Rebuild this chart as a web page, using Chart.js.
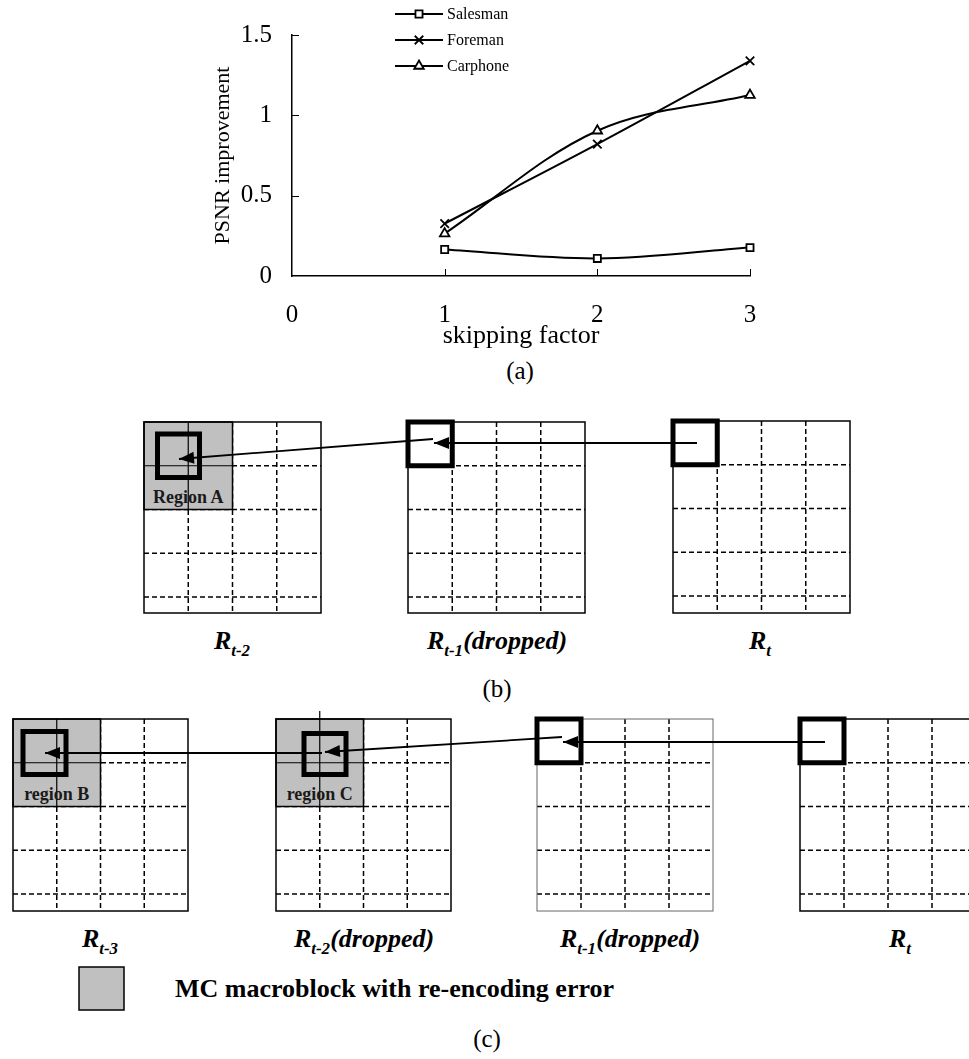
<!DOCTYPE html>
<html>
<head>
<meta charset="utf-8">
<title>PSNR improvement vs skipping factor</title>
<script src="https://cdn.jsdelivr.net/npm/chart.js@4.4.1/dist/chart.umd.min.js"></script>
<style>
  html, body { margin: 0; padding: 0; background: #fff; }
  #page { position: relative; width: 969px; height: 1059px; overflow: hidden; }
  #chartWrap { position: absolute; left: 0; top: 0; width: 969px; height: 352px; }
  #diagram { position: absolute; left: 0; top: 0; }
</style>
</head>
<body>
<div id="page">
  <svg id="diagram" width="969" height="1059" xmlns="http://www.w3.org/2000/svg"></svg>
  <div id="chartWrap"><canvas id="psnrChart" width="969" height="352"></canvas></div>
</div>
<script>
// chart data
const skipFactors = [1, 2, 3];
const salesman = [0.165, 0.109, 0.177];
const foreman = [0.326, 0.821, 1.339];
const carphone = [0.264, 0.904, 1.126];
const seriesNames = ['Salesman', 'Foreman', 'Carphone'];
const xTicks = [0, 1, 2, 3];
const yTicks = [0, 0.5, 1, 1.5];

const SERIF = "'Liberation Serif', 'Times New Roman', serif";

function toPoints(values) {
    return skipFactors.map((x, i) => ({ x: x, y: values[i] }));
}

function seriesStyle(style, radius) {
    return {
        borderColor: '#000',
        backgroundColor: '#fff',
        borderWidth: 2,
        tension: 0.35,
        clip: false,
        pointStyle: style,
        pointRadius: radius,
        pointBorderWidth: 1.8,
        pointBorderColor: '#000',
        pointBackgroundColor: '#fff'
    };
}

// legend drawn as line + marker like the original figure
const lineLegend = {
    id: 'lineLegend',
    afterDraw(chart) {
        const ctx = chart.ctx;
        ctx.save();
        chart.data.datasets.forEach((ds, i) => {
            const y = 14 + i * 26;
            ctx.strokeStyle = '#000';
            ctx.lineWidth = 2;
            ctx.beginPath();
            ctx.moveTo(395, y);
            ctx.lineTo(443, y);
            ctx.stroke();
            ctx.fillStyle = '#fff';
            ctx.lineWidth = ds.pointBorderWidth;
            Chart.helpers.drawPoint(ctx, {
                pointStyle: ds.pointStyle,
                radius: ds.pointRadius,
                rotation: 0,
                borderWidth: ds.pointBorderWidth
            }, 419, y);
            ctx.fillStyle = '#000';
            ctx.font = "16px " + SERIF;
            ctx.textAlign = 'left';
            ctx.textBaseline = 'middle';
            ctx.fillText(ds.label, 447, y + 1);
        });
        ctx.restore();
    }
};

// small tick marks pointing into the plot
const innerTicks = {
    id: 'innerTicks',
    afterDraw(chart) {
        const { ctx, chartArea, scales } = chart;
        ctx.save();
        ctx.strokeStyle = '#000';
        ctx.lineWidth = 1;
        ctx.beginPath();
        xTicks.slice(1).forEach(v => {
            const px = Math.round(scales.x.getPixelForValue(v)) + 0.5;
            ctx.moveTo(px, chartArea.bottom);
            ctx.lineTo(px, chartArea.bottom - 7);
        });
        yTicks.slice(1).forEach(v => {
            const py = Math.round(scales.y.getPixelForValue(v)) + 0.5;
            ctx.moveTo(chartArea.left, py);
            ctx.lineTo(chartArea.left + 7, py);
        });
        ctx.stroke();
        ctx.restore();
    }
};

const ctx = document.getElementById('psnrChart').getContext('2d');
new Chart(ctx, {
    type: 'line',
    data: {
        datasets: [
            Object.assign({ label: seriesNames[0], data: toPoints(salesman) }, seriesStyle('rect', 5)),
            Object.assign({ label: seriesNames[1], data: toPoints(foreman) }, seriesStyle('crossRot', 6)),
            Object.assign({ label: seriesNames[2], data: toPoints(carphone) }, seriesStyle('triangle', 5.5))
        ]
    },
    options: {
        responsive: false,
        animation: false,
        events: [],
        layout: { padding: { left: 200, right: 219, top: 19, bottom: 0 } },
        plugins: {
            legend: { display: false },
            tooltip: { enabled: false }
        },
        scales: {
            x: {
                type: 'linear',
                min: 0,
                max: 3,
                afterBuildTicks: s => { s.ticks = xTicks.map(v => ({ value: v })); },
                afterFit: s => { s.height = 76; },
                grid: { display: false, drawTicks: false },
                border: { display: true, color: '#000', width: 1.5 },
                ticks: {
                    color: '#000', padding: 24, font: { family: SERIF, size: 25 },
                    callback: v => String(v)
                },
                title: {
                    display: true,
                    text: 'skipping factor',
                    color: '#000',
                    padding: 0,
                    font: { family: SERIF, size: 26 }
                }
            },
            y: {
                min: 0,
                max: 1.5,
                afterBuildTicks: s => { s.ticks = yTicks.map(v => ({ value: v })); },
                afterFit: s => { s.width = 92; },
                grid: { display: false, drawTicks: false },
                border: { display: true, color: '#000', width: 1.5 },
                ticks: {
                    color: '#000', padding: 20, font: { family: SERIF, size: 25 },
                    callback: v => String(v)
                },
                title: {
                    display: true,
                    text: 'PSNR improvement',
                    color: '#000',
                    padding: { top: 10, bottom: 0 },
                    font: { family: SERIF, size: 22 }
                }
            }
        }
    },
    plugins: [innerTicks, lineLegend]
});

// ---- diagrams (b) and (c) ----
const svg = document.getElementById('diagram');
const NS = 'http://www.w3.org/2000/svg';

function el(tag, attrs, parent) {
    const node = document.createElementNS(NS, tag);
    for (const k in attrs) node.setAttribute(k, attrs[k]);
    (parent || svg).appendChild(node);
    return node;
}

function seg(x1, y1, x2, y2, extra) {
    return el('line', Object.assign({ x1, y1, x2, y2, stroke: '#000', 'stroke-width': 1.5 }, extra || {}));
}

function drawFrame(f) {
    const rowH = 43.75;
    const colW = f.w / 4;
    for (let i = 1; i < 4; i++) {
        seg(f.x + i * colW, f.y, f.x + i * colW, f.y + f.h, { 'stroke-dasharray': '5 3' });
    }
    for (let j = 1; j <= 4; j++) {
        seg(f.x, f.y + j * rowH, f.x + f.w, f.y + j * rowH, { 'stroke-dasharray': '5 3' });
    }
    if (f.region) {
        el('rect', { x: f.x, y: f.y, width: 2 * colW, height: 2 * rowH, fill: '#c0c0c0', stroke: '#000', 'stroke-width': 1.5 });
        seg(f.x + colW, f.y - (f.extend || 0), f.x + colW, f.y + 2 * rowH, { 'stroke-width': 1.2 });
        seg(f.x, f.y + rowH, f.x + 2 * colW, f.y + rowH, { 'stroke-width': 1.2 });
        const t = el('text', {
            x: f.x + colW, y: f.y + 2 * rowH - 7, 'text-anchor': 'middle',
            'font-family': SERIF, 'font-weight': 'bold', 'font-size': 18, fill: '#1a1a1a'
        });
        t.textContent = f.region;
    }
    el('rect', { x: f.x, y: f.y, width: f.w, height: f.h, fill: 'none',
        stroke: f.border || '#000', 'stroke-width': f.bw || 1.5 });
    const b = f.box || { x: f.x, y: f.y, w: colW, h: rowH };
    el('rect', { x: b.x, y: b.y, width: b.w, height: b.h, fill: 'none', stroke: '#000', 'stroke-width': 5 });
}

function arrow(x1, y1, x2, y2) {
    seg(x1, y1, x2, y2, { 'stroke-width': 1.8 });
    const a = Math.atan2(y2 - y1, x2 - x1);
    const L = 15, W = 6;
    const bx = x2 - L * Math.cos(a), by = y2 - L * Math.sin(a);
    const p = [
        [x2, y2],
        [bx + W * Math.sin(a), by - W * Math.cos(a)],
        [bx - W * Math.sin(a), by + W * Math.cos(a)]
    ];
    el('polygon', { points: p.map(q => q.join(',')).join(' '), fill: '#000' });
}

function frameLabel(cx, y, sub, rest) {
    const t = el('text', {
        x: cx, y: y, 'text-anchor': 'middle', 'font-family': SERIF,
        'font-weight': 'bold', 'font-style': 'italic', 'font-size': 26, fill: '#000'
    });
    el('tspan', {}, t).textContent = 'R';
    const s = el('tspan', { dy: 7, 'font-size': 17 }, t);
    s.textContent = sub;
    if (rest) {
        const r = el('tspan', { dy: -7 }, t);
        r.textContent = rest;
    }
}

function caption(cx, y, text) {
    const t = el('text', { x: cx, y: y, 'text-anchor': 'middle', 'font-family': SERIF, 'font-size': 25, fill: '#000' });
    t.textContent = text;
}

caption(520, 379, '(a)');

// (b)
drawFrame({ x: 144, y: 422, w: 177, h: 191, region: 'Region A', box: { x: 157.5, y: 434, w: 42, h: 43.5 } });
drawFrame({ x: 408, y: 422, w: 177, h: 191 });
drawFrame({ x: 673, y: 421, w: 177, h: 192 });
arrow(697, 443, 434, 443);
arrow(433, 439, 179, 459);
frameLabel(232, 649, 't-2');
frameLabel(497, 649, 't-1', '(dropped)');
frameLabel(760, 649, 't');
caption(497, 697, '(b)');

// (c)
drawFrame({ x: 13, y: 719, w: 175, h: 192, region: 'region B', box: { x: 23, y: 731.5, w: 43, h: 43 } });
drawFrame({ x: 276, y: 719, w: 175, h: 192, region: 'region C', extend: 8, box: { x: 304, y: 733.5, w: 42, h: 41 } });
drawFrame({ x: 537, y: 719, w: 176, h: 192, border: '#666', bw: 1 });
drawFrame({ x: 800, y: 719, w: 176, h: 192 });
arrow(825, 742, 563, 742);
arrow(562, 737, 325, 752);
arrow(322, 753, 45, 753);
frameLabel(100, 947, 't-3');
frameLabel(364, 947, 't-2', '(dropped)');
frameLabel(630, 947, 't-1', '(dropped)');
frameLabel(900, 947, 't');

el('rect', { x: 79, y: 967, width: 45, height: 43, fill: '#c0c0c0', stroke: '#000', 'stroke-width': 1.5 });
const note = el('text', { x: 175, y: 997, 'font-family': SERIF, 'font-weight': 'bold', 'font-size': 26, fill: '#000' });
note.textContent = 'MC macroblock with re-encoding error';
caption(487, 1047, '(c)');
</script>
</body>
</html>
